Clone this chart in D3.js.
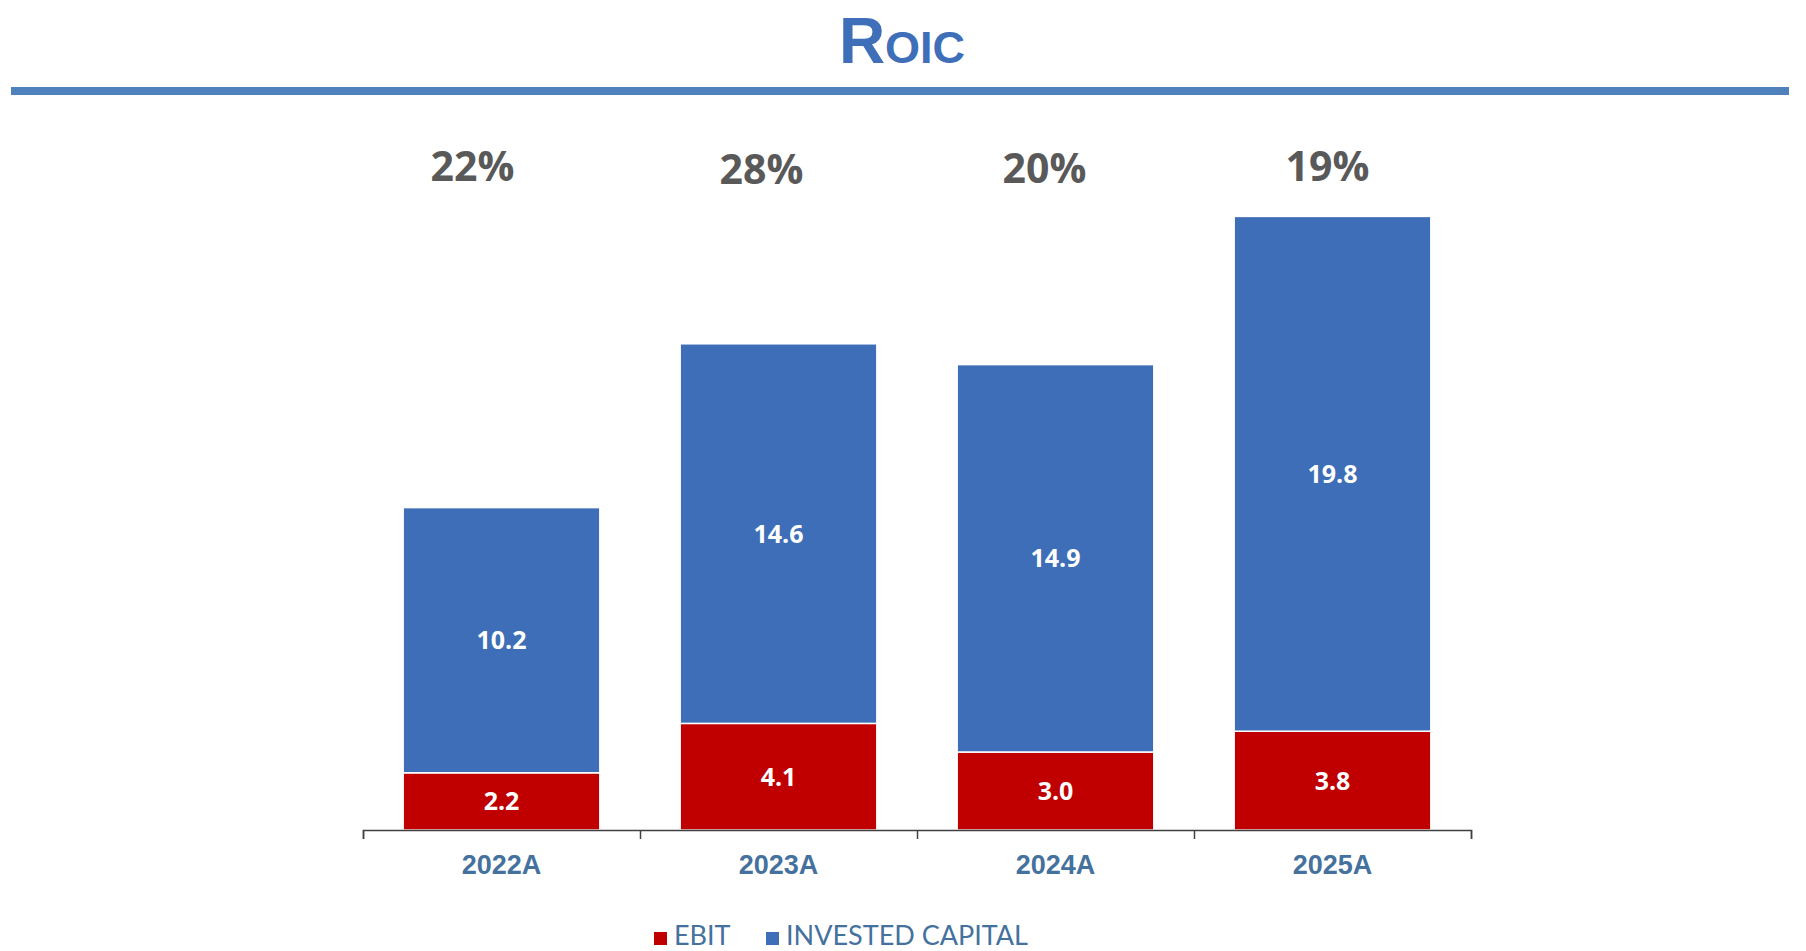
<!DOCTYPE html>
<html>
<head>
<meta charset="utf-8">
<script src="https://cdn.jsdelivr.net/npm/d3@7"></script>
<style>
  body { margin: 0; background: #fff; }
</style>
</head>
<body>
<div id="chart"></div>
<script>
// data
var years = ["2022A", "2023A", "2024A", "2025A"];
var ebit = [2.2, 4.1, 3.0, 3.8];
var investedCapital = [10.2, 14.6, 14.9, 19.8];
var roicLabels = ["22%", "28%", "20%", "19%"];
var seriesNames = ["EBIT", "INVESTED CAPITAL"];

var colors = { "EBIT": "#c00000", "INVESTED CAPITAL": "#3d6eb7" };

var W = 1806, H = 951;
var svg = d3.select("#chart").append("svg")
  .attr("width", W)
  .attr("height", H);

// title
var title = svg.append("text")
  .attr("x", 902)
  .attr("y", 63)
  .attr("text-anchor", "middle")
  .style("font-family", "'Liberation Sans', Arial, sans-serif")
  .style("font-weight", "bold")
  .style("fill", "#3e6fb8");
title.append("tspan").style("font-size", "64px").text("R");
title.append("tspan").style("font-size", "45px").text("OIC");

svg.append("rect")
  .attr("x", 11).attr("y", 87)
  .attr("width", 1778).attr("height", 8)
  .attr("fill", "#4f81bd");

// scales
var baseY = 830;
var x = d3.scaleBand()
  .domain(years)
  .range([363, 1471])
  .paddingInner(0.29)
  .paddingOuter(0.145);

var y = d3.scaleLinear()
  .domain([0, 25])
  .range([baseY, baseY - 650]);

// stacked data
var table = years.map(function(d, i) {
  return { year: d, "EBIT": ebit[i], "INVESTED CAPITAL": investedCapital[i] };
});
var stacked = d3.stack().keys(seriesNames)(table);

var layers = svg.selectAll("g.layer")
  .data(stacked)
  .enter().append("g")
  .attr("class", "layer")
  .attr("fill", function(d) { return colors[d.key]; });

layers.selectAll("rect")
  .data(function(d) { return d; })
  .enter().append("rect")
  .attr("x", function(d) { return x(d.data.year); })
  .attr("y", function(d) { return y(d[1]); })
  .attr("width", x.bandwidth())
  .attr("height", function(d) { return y(d[0]) - y(d[1]); })
  .attr("stroke", "#fff")
  .attr("stroke-width", 1.5);

// value labels inside segments
layers.selectAll("text")
  .data(function(d) { return d; })
  .enter().append("text")
  .attr("x", function(d) { return x(d.data.year) + x.bandwidth() / 2; })
  .attr("y", function(d) { return (y(d[0]) + y(d[1])) / 2; })
  .attr("dy", "0.36em")
  .attr("text-anchor", "middle")
  .style("font-family", "'Open Sans', sans-serif")
  .style("font-weight", "bold")
  .style("font-size", "25px")
  .style("fill", "#fff")
  .text(function(d) { return (d[1] - d[0]).toFixed(1); });

// roic labels above bars
var roicDx = [-29, -17, -11, -5];
var roicBase = [181, 184, 183, 181];
svg.selectAll("text.roic")
  .data(roicLabels)
  .enter().append("text")
  .attr("class", "roic")
  .attr("x", function(d, i) { return x(years[i]) + x.bandwidth() / 2 + roicDx[i]; })
  .attr("y", function(d, i) { return roicBase[i]; })
  .attr("text-anchor", "middle")
  .style("font-family", "'Open Sans', sans-serif")
  .style("font-weight", "bold")
  .style("font-size", "41px")
  .style("fill", "#595959")
  .text(function(d) { return d; });

// x axis: boundary ticks
var edge = d3.scaleLinear().domain([0, years.length]).range([363, 1471]);
svg.append("g")
  .attr("transform", "translate(0," + baseY + ")")
  .call(d3.axisBottom(edge).ticks(years.length).tickFormat("").tickSize(9).tickSizeOuter(9))
  .call(function(g) {
    g.selectAll("path, line").attr("stroke", "#404040").attr("stroke-width", 1.5);
  });

// x axis: category labels
svg.append("g")
  .attr("transform", "translate(0," + baseY + ")")
  .call(d3.axisBottom(x).tickSize(0).tickPadding(44))
  .call(function(g) {
    g.select(".domain").remove();
    g.selectAll("text")
      .attr("dy", 0)
      .style("font-family", "'Liberation Sans', Arial, sans-serif")
      .style("font-weight", "bold")
      .style("font-size", "27px")
      .style("fill", "#44719d");
  });

// legend
var legendX = [654, 766];
var legend = svg.selectAll("g.legend")
  .data(seriesNames)
  .enter().append("g")
  .attr("class", "legend")
  .attr("transform", function(d, i) { return "translate(" + legendX[i] + ",0)"; });
legend.append("rect")
  .attr("x", 0).attr("y", 932)
  .attr("width", 13).attr("height", 13)
  .attr("fill", function(d) { return colors[d]; });
legend.append("text")
  .attr("x", 20).attr("y", 945)
  .style("font-family", "Lato, sans-serif")
  .style("font-size", "27px")
  .style("fill", "#44719d")
  .text(function(d) { return d; });
</script>
</body>
</html>
